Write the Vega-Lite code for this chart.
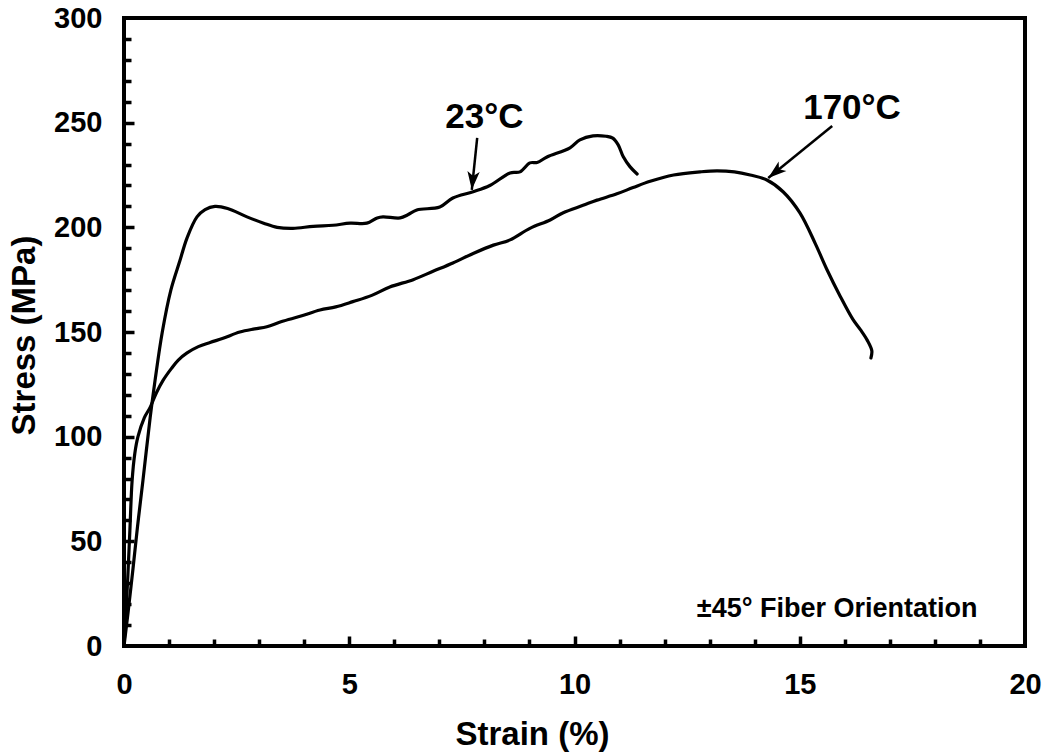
{
  "$schema": "https://vega.github.io/schema/vega-lite/v6.json",
  "width": 901,
  "height": 628,
  "autosize": "none",
  "padding": {"left": 124, "top": 18, "right": 20, "bottom": 108},
  "background": "white",
  "config": {
    "font": "Liberation Sans",
    "view": {"stroke": "black", "strokeWidth": 4},
    "axis": {"grid": false, "domain": false, "labelColor": "black", "titleColor": "black", "labelFontWeight": "bold", "titleFontWeight": "bold", "tickColor": "black"}
  },
  "datasets": {
    "curves": [
      {"temp": "23", "strain": 0.0, "stress": 0},
      {"temp": "23", "strain": 0.09, "stress": 16},
      {"temp": "23", "strain": 0.2, "stress": 37},
      {"temp": "23", "strain": 0.3, "stress": 57},
      {"temp": "23", "strain": 0.42, "stress": 79},
      {"temp": "23", "strain": 0.58, "stress": 109},
      {"temp": "23", "strain": 0.69, "stress": 127},
      {"temp": "23", "strain": 0.85, "stress": 150},
      {"temp": "23", "strain": 1.04, "stress": 170},
      {"temp": "23", "strain": 1.24, "stress": 184},
      {"temp": "23", "strain": 1.4, "stress": 195},
      {"temp": "23", "strain": 1.62, "stress": 205},
      {"temp": "23", "strain": 1.8, "stress": 208.5},
      {"temp": "23", "strain": 2.02, "stress": 210},
      {"temp": "23", "strain": 2.3, "stress": 209},
      {"temp": "23", "strain": 2.73, "stress": 205},
      {"temp": "23", "strain": 3.1, "stress": 202},
      {"temp": "23", "strain": 3.4, "stress": 200},
      {"temp": "23", "strain": 3.75, "stress": 199.5},
      {"temp": "23", "strain": 4.2, "stress": 200.5},
      {"temp": "23", "strain": 4.64, "stress": 201},
      {"temp": "23", "strain": 5.02, "stress": 202},
      {"temp": "23", "strain": 5.39, "stress": 202},
      {"temp": "23", "strain": 5.62, "stress": 204.5},
      {"temp": "23", "strain": 5.75, "stress": 205},
      {"temp": "23", "strain": 6.13, "stress": 204.5},
      {"temp": "23", "strain": 6.3, "stress": 206},
      {"temp": "23", "strain": 6.5, "stress": 208.3},
      {"temp": "23", "strain": 7.01, "stress": 209.7},
      {"temp": "23", "strain": 7.3, "stress": 214},
      {"temp": "23", "strain": 7.75, "stress": 217},
      {"temp": "23", "strain": 8.12, "stress": 220},
      {"temp": "23", "strain": 8.57, "stress": 226},
      {"temp": "23", "strain": 8.79, "stress": 226.5},
      {"temp": "23", "strain": 9.01, "stress": 230.8},
      {"temp": "23", "strain": 9.17, "stress": 231},
      {"temp": "23", "strain": 9.39, "stress": 233.6},
      {"temp": "23", "strain": 9.9, "stress": 238},
      {"temp": "23", "strain": 10.12, "stress": 241.8},
      {"temp": "23", "strain": 10.41, "stress": 243.7},
      {"temp": "23", "strain": 10.7, "stress": 243.5},
      {"temp": "23", "strain": 10.85, "stress": 242.6},
      {"temp": "23", "strain": 10.97, "stress": 239.4},
      {"temp": "23", "strain": 11.08, "stress": 233.8},
      {"temp": "23", "strain": 11.23, "stress": 229},
      {"temp": "23", "strain": 11.39, "stress": 225.5},
      {"temp": "170", "strain": 0.0, "stress": 0},
      {"temp": "170", "strain": 0.04, "stress": 15},
      {"temp": "170", "strain": 0.08, "stress": 31},
      {"temp": "170", "strain": 0.13, "stress": 55},
      {"temp": "170", "strain": 0.18, "stress": 79},
      {"temp": "170", "strain": 0.24, "stress": 92},
      {"temp": "170", "strain": 0.31, "stress": 100},
      {"temp": "170", "strain": 0.45, "stress": 109},
      {"temp": "170", "strain": 0.58, "stress": 114},
      {"temp": "170", "strain": 0.72, "stress": 121},
      {"temp": "170", "strain": 0.87, "stress": 127},
      {"temp": "170", "strain": 1.05, "stress": 132.5},
      {"temp": "170", "strain": 1.2, "stress": 136.5},
      {"temp": "170", "strain": 1.4, "stress": 140},
      {"temp": "170", "strain": 1.65, "stress": 143},
      {"temp": "170", "strain": 1.91, "stress": 145},
      {"temp": "170", "strain": 2.2, "stress": 147},
      {"temp": "170", "strain": 2.57, "stress": 150},
      {"temp": "170", "strain": 2.9, "stress": 151.5},
      {"temp": "170", "strain": 3.17, "stress": 152.5},
      {"temp": "170", "strain": 3.5, "stress": 155},
      {"temp": "170", "strain": 3.91, "stress": 157.5},
      {"temp": "170", "strain": 4.35, "stress": 160.5},
      {"temp": "170", "strain": 4.7, "stress": 162},
      {"temp": "170", "strain": 5.08, "stress": 164.5},
      {"temp": "170", "strain": 5.5, "stress": 167.5},
      {"temp": "170", "strain": 5.9, "stress": 171.5},
      {"temp": "170", "strain": 6.42, "stress": 175},
      {"temp": "170", "strain": 6.86, "stress": 179},
      {"temp": "170", "strain": 7.3, "stress": 183},
      {"temp": "170", "strain": 7.75, "stress": 187.5},
      {"temp": "170", "strain": 8.2, "stress": 191.5},
      {"temp": "170", "strain": 8.57, "stress": 194},
      {"temp": "170", "strain": 9.01, "stress": 199.5},
      {"temp": "170", "strain": 9.46, "stress": 203.5},
      {"temp": "170", "strain": 9.75, "stress": 207},
      {"temp": "170", "strain": 10.19, "stress": 210.5},
      {"temp": "170", "strain": 10.5, "stress": 213},
      {"temp": "170", "strain": 10.94, "stress": 216},
      {"temp": "170", "strain": 11.3, "stress": 219},
      {"temp": "170", "strain": 11.68, "stress": 222},
      {"temp": "170", "strain": 12.2, "stress": 225},
      {"temp": "170", "strain": 12.79, "stress": 226.5},
      {"temp": "170", "strain": 13.16, "stress": 227},
      {"temp": "170", "strain": 13.55, "stress": 226.5},
      {"temp": "170", "strain": 13.9, "stress": 225},
      {"temp": "170", "strain": 14.27, "stress": 222.6},
      {"temp": "170", "strain": 14.63, "stress": 217},
      {"temp": "170", "strain": 15.0, "stress": 207},
      {"temp": "170", "strain": 15.35, "stress": 192},
      {"temp": "170", "strain": 15.6, "stress": 180},
      {"temp": "170", "strain": 15.9, "stress": 167},
      {"temp": "170", "strain": 16.18, "stress": 156},
      {"temp": "170", "strain": 16.35, "stress": 151},
      {"temp": "170", "strain": 16.5, "stress": 146},
      {"temp": "170", "strain": 16.6, "stress": 141},
      {"temp": "170", "strain": 16.58, "stress": 137.6}
    ],
    "arrows": [
      {"name": "23", "x0": 7.84, "y0": 242.7, "x1": 7.72, "y1": 217.9},
      {"name": "170", "x0": 15.72, "y0": 248.4, "x1": 14.3, "y1": 223.6}
    ],
    "labels": [
      {"label": "23°C", "strain": 8.0, "stress": 252.5},
      {"label": "170°C", "strain": 16.16, "stress": 256.8}
    ],
    "note": [
      {"label": "±45° Fiber Orientation", "strain": 15.83, "stress": 17.8}
    ]
  },
  "layer": [
    {
      "data": {"name": "curves"},
      "mark": {"type": "line", "color": "black", "strokeWidth": 3.2, "strokeJoin": "round", "strokeCap": "round", "interpolate": "catmull-rom"},
      "encoding": {
        "x": {"field": "strain", "type": "quantitative", "scale": {"domain": [0, 20], "nice": false},
          "axis": {"orient": "bottom", "values": [0, 5, 10, 15, 20], "ticks": false, "labelFontSize": 29, "labelPadding": 24, "labelFlush": false, "labelOverlap": false,
            "title": "Strain (%)", "titleFontSize": 33, "titleX": 408, "titleY": 88, "titleAlign": "center", "titleBaseline": "middle"}},
        "y": {"field": "stress", "type": "quantitative", "scale": {"domain": [0, 300], "nice": false},
          "axis": {"orient": "left", "values": [0, 50, 100, 150, 200, 250, 300], "ticks": false, "labelFontSize": 29, "labelPadding": 22, "labelFlush": false, "labelOverlap": false,
            "title": "Stress (MPa)", "titleFontSize": 33, "titleX": -100, "titleY": 317, "titleAngle": -90, "titleAlign": "center", "titleBaseline": "middle"}},
        "detail": {"field": "temp"},
        "order": {"value": null}
      }
    },
    {
      "data": {"name": "arrows"},
      "mark": {"type": "rule", "color": "black", "strokeWidth": 2.5},
      "encoding": {
        "x": {"field": "x0", "type": "quantitative",
          "axis": {"orient": "bottom", "values": [1,2,3,4,5,6,7,8,9,10,11,12,13,14,15,16,17,18,19], "labels": false, "title": null, "tickWidth": 3.5,
            "tickSize": {"condition": {"test": "datum.value % 5 === 0", "value": -10}, "value": -7}}},
        "y": {"field": "y0", "type": "quantitative",
          "axis": {"orient": "left", "values": [10,20,30,40,50,60,70,80,90,100,110,120,130,140,150,160,170,180,190,200,210,220,230,240,250,260,270,280,290], "labels": false, "title": null, "tickWidth": 3.5,
            "tickSize": {"condition": {"test": "datum.value % 50 === 0", "value": -10}, "value": -7}}},
        "x2": {"field": "x1"},
        "y2": {"field": "y1"}
      }
    },
    {
      "data": {"name": "arrows"},
      "transform": [{"filter": "datum.name === '23'"}],
      "mark": {"type": "point", "shape": "M0,0 L0.6,1.8 L0,1.35 L-0.6,1.8 Z", "filled": true, "opacity": 1, "color": "black", "size": 420, "angle": 185.5},
      "encoding": {
        "x": {"field": "x1", "type": "quantitative", "axis": null},
        "y": {"field": "y1", "type": "quantitative", "axis": null}
      }
    },
    {
      "data": {"name": "arrows"},
      "transform": [{"filter": "datum.name === '170'"}],
      "mark": {"type": "point", "shape": "M0,0 L0.6,1.8 L0,1.35 L-0.6,1.8 Z", "filled": true, "opacity": 1, "color": "black", "size": 420, "angle": 230.9},
      "encoding": {
        "x": {"field": "x1", "type": "quantitative", "axis": null},
        "y": {"field": "y1", "type": "quantitative", "axis": null}
      }
    },
    {
      "data": {"name": "labels"},
      "mark": {"type": "text", "fontSize": 35, "fontWeight": "bold", "color": "black", "align": "center", "baseline": "middle"},
      "encoding": {
        "x": {"field": "strain", "type": "quantitative", "axis": null},
        "y": {"field": "stress", "type": "quantitative", "axis": null},
        "text": {"field": "label"}
      }
    },
    {
      "data": {"name": "note"},
      "mark": {"type": "text", "fontSize": 27, "fontWeight": "bold", "color": "black", "align": "center", "baseline": "middle"},
      "encoding": {
        "x": {"field": "strain", "type": "quantitative", "axis": null},
        "y": {"field": "stress", "type": "quantitative", "axis": null},
        "text": {"field": "label"}
      }
    }
  ],
  "resolve": {"axis": {"x": "independent", "y": "independent"}}
}
